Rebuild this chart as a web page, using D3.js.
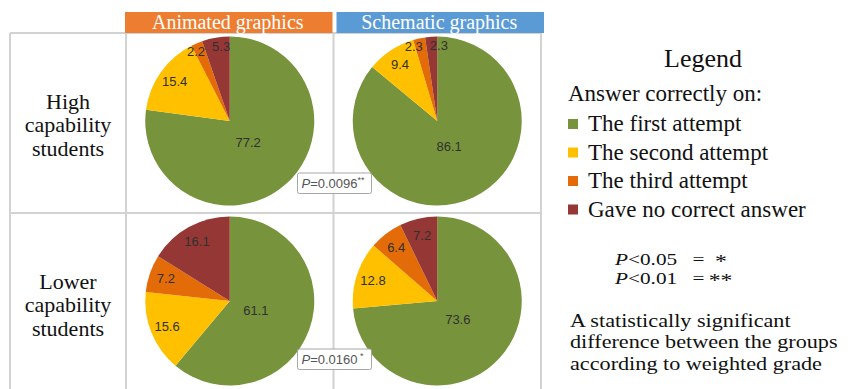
<!DOCTYPE html>
<html lang="en">

<head>
  <meta charset="UTF-8">
  <script src="https://cdn.jsdelivr.net/npm/d3@7"></script>
  <title>Answers by capability and graphics</title>
  <style>
    body {
      margin: 0;
      background: white;
    }

    .slice-label {
      font-family: 'Liberation Sans', Arial, sans-serif;
      font-size: 13px;
      fill: #303030;
      text-anchor: middle;
    }

    .grid line {
      stroke: #d2d2d2;
      stroke-width: 2;
    }

    .pbox text {
      font-family: 'Liberation Sans', Arial, sans-serif;
      font-size: 13px;
      fill: #555;
    }
  </style>
</head>

<body>
  <script>
    const width = 864, height = 389;
    const serif = "'Liberation Serif', 'Times New Roman', 'DejaVu Serif', serif";

    const columns = ['Animated graphics', 'Schematic graphics'];
    const columnColors = ['#ED7D31', '#5B9BD5'];
    const rowLabels = [['High', 'capability', 'students'], ['Lower', 'capability', 'students']];
    const categories = ['The first attempt', 'The second attempt', 'The third attempt', 'Gave no correct answer'];
    const sliceColors = ['#77933C', '#FFC000', '#E36C09', '#953735'];

    // percentages, clockwise from 12 o'clock
    const highAnimated = [77.2, 15.4, 2.2, 5.3];
    const highSchematic = [86.1, 9.4, 2.3, 2.3];
    const lowerAnimated = [61.1, 15.6, 7.2, 16.1];
    const lowerSchematic = [73.6, 12.8, 6.4, 7.2];
    const pieValues = [[highAnimated, highSchematic], [lowerAnimated, lowerSchematic]];

    const pValues = ['0.0096', '0.0160'];
    const pStars = ['**', ' *'];

    const svg = d3.select('body').append('svg').attr('width', width).attr('height', height);

    const serifText = (sel, size) => sel.append('text')
      .attr('font-family', serif).attr('font-size', size).attr('fill', '#111');

    const gridLeft = 10, labelRight = 126, gridRight = 541, gridTop = 33;
    const colX = d3.scaleBand().domain([0, 1]).range([labelRight, gridRight]);
    const rowY = d3.scaleBand().domain([0, 1]).range([gridTop, 393]);
    const R = 84.5;

    // grid
    const grid = svg.append('g').attr('class', 'grid');
    [gridLeft, labelRight, colX(1), gridRight].forEach(x =>
      grid.append('line').attr('x1', x).attr('x2', x).attr('y1', gridTop).attr('y2', height));
    [gridTop, rowY(1)].forEach(y =>
      grid.append('line').attr('x1', gridLeft).attr('x2', gridRight).attr('y1', y).attr('y2', y));

    // column headers
    columns.forEach((name, i) => {
      svg.append('rect')
        .attr('x', colX(i) + (i ? 3 : -1)).attr('y', 12)
        .attr('width', colX.bandwidth()).attr('height', 21)
        .attr('fill', columnColors[i]);
      serifText(svg, 20)
        .attr('x', colX(i) + colX.bandwidth() / 2 + (i ? 2 : -2)).attr('y', 29)
        .attr('text-anchor', 'middle').attr('fill', 'white')
        .text(name);
    });

    // row labels
    rowLabels.forEach((lines, r) => {
      const cy = rowY(r) + rowY.bandwidth() / 2 + 9;
      serifText(svg, 22).attr('text-anchor', 'middle')
        .selectAll('tspan').data(lines).enter().append('tspan')
        .attr('x', (gridLeft + labelRight) / 2)
        .attr('y', (d, i) => cy + (i - 1) * 23.5)
        .text(d => d);
    });

    // pies
    const pie = d3.pie().sort(null).value(d => d);
    const arc = d3.arc().innerRadius(0).outerRadius(R);
    const labelRadius = v => v > 50 ? R * 0.33 : v < 6 ? R * 0.9 : R * 0.8;

    pieValues.forEach((rowVals, r) => {
      rowVals.forEach((vals, c) => {
        const cx = colX(c) + colX.bandwidth() / 2, cy = rowY(r) + 88;
        const g = svg.append('g').attr('transform', `translate(${cx},${cy})`);
        const arcs = pie(vals);
        g.selectAll('path').data(arcs).enter().append('path')
          .attr('d', arc).attr('fill', (d, i) => sliceColors[i]);

        const labels = g.selectAll('text').data(arcs).enter().append('text')
          .attr('class', 'slice-label').attr('dy', '0.35em')
          .text(d => d.value.toFixed(1));
        const pos = arcs.map(d => {
          const a = (d.startAngle + d.endAngle) / 2, lr = labelRadius(d.value);
          return [Math.sin(a) * lr, -Math.cos(a) * lr];
        });
        // push overlapping labels apart horizontally
        const w = labels.nodes().map(n => n.getComputedTextLength());
        for (let i = 0; i < pos.length; i++) {
          for (let j = i + 1; j < pos.length; j++) {
            const need = (w[i] + w[j]) / 2 + 7;
            const dx = pos[j][0] - pos[i][0];
            if (Math.abs(dx) < need && Math.abs(pos[j][1] - pos[i][1]) < 12) {
              const shift = (need - Math.abs(dx)) / 2, s = dx >= 0 ? 1 : -1;
              pos[i][0] -= shift * s;
              pos[j][0] += shift * s;
            }
          }
        }
        labels.attr('x', (d, i) => pos[i][0]).attr('y', (d, i) => pos[i][1]);
      });
    });

    // p-value boxes between the two columns
    pValues.forEach((p, r) => {
      const bx = colX(1) - 36, by = rowY(r) + 140 - (r ? 4 : 0);
      const g = svg.append('g').attr('class', 'pbox');
      g.append('rect').attr('x', bx).attr('y', by).attr('width', 74).attr('height', 20.5)
        .attr('rx', 2).attr('fill', 'white').attr('stroke', '#a6a6a6');
      const t = g.append('text').attr('x', bx + 4).attr('y', by + 15);
      t.append('tspan').style('font-style', 'italic').text('P');
      t.append('tspan').text('=' + p);
      t.append('tspan').attr('dy', -5).style('font-size', '9px').text(pStars[r]);
    });

    // legend
    const lx = 568;
    serifText(svg, 26).attr('x', 703).attr('y', 67).attr('text-anchor', 'middle').text('Legend');
    serifText(svg, 23).attr('x', lx).attr('y', 101).text('Answer correctly on:');
    const item = svg.selectAll('.item').data(categories).enter().append('g').attr('class', 'item')
      .attr('transform', (d, i) => `translate(${lx},${131 + i * 28.5})`);
    item.append('rect').attr('x', 0).attr('y', -12).attr('width', 10).attr('height', 10)
      .attr('fill', (d, i) => sliceColors[i]);
    item.each(function (d) {
      serifText(d3.select(this), 23).attr('x', 20).text(d);
    });

    // significance key, set wide like the original
    const sig = [['0.05', '*'], ['0.01', '**']];
    const sigG = svg.append('g').attr('transform', 'translate(615,0) scale(1.25,1)');
    sig.forEach((s, i) => {
      const t = serifText(sigG, 17).attr('y', 265 + i * 19.5);
      t.append('tspan').attr('x', 0).attr('font-style', 'italic').text('P');
      t.append('tspan').text('<' + s[0]);
      t.append('tspan').attr('x', 62).text('=');
      t.append('tspan').attr('x', i ? 75 : 80).attr('dy', 3).attr('font-size', 19).text(s[1]);
    });

    // the note is set slightly wide, as in the original
    const note = ['A statistically significant', 'difference between the groups', 'according to weighted grade'];
    serifText(svg.append('g').attr('transform', 'translate(570,0) scale(1.2,1)'), 18.5)
      .selectAll('tspan').data(note).enter().append('tspan')
      .attr('x', 0).attr('y', (d, i) => 327 + i * 21.5).text(d => d);
  </script>
</body>

</html>
